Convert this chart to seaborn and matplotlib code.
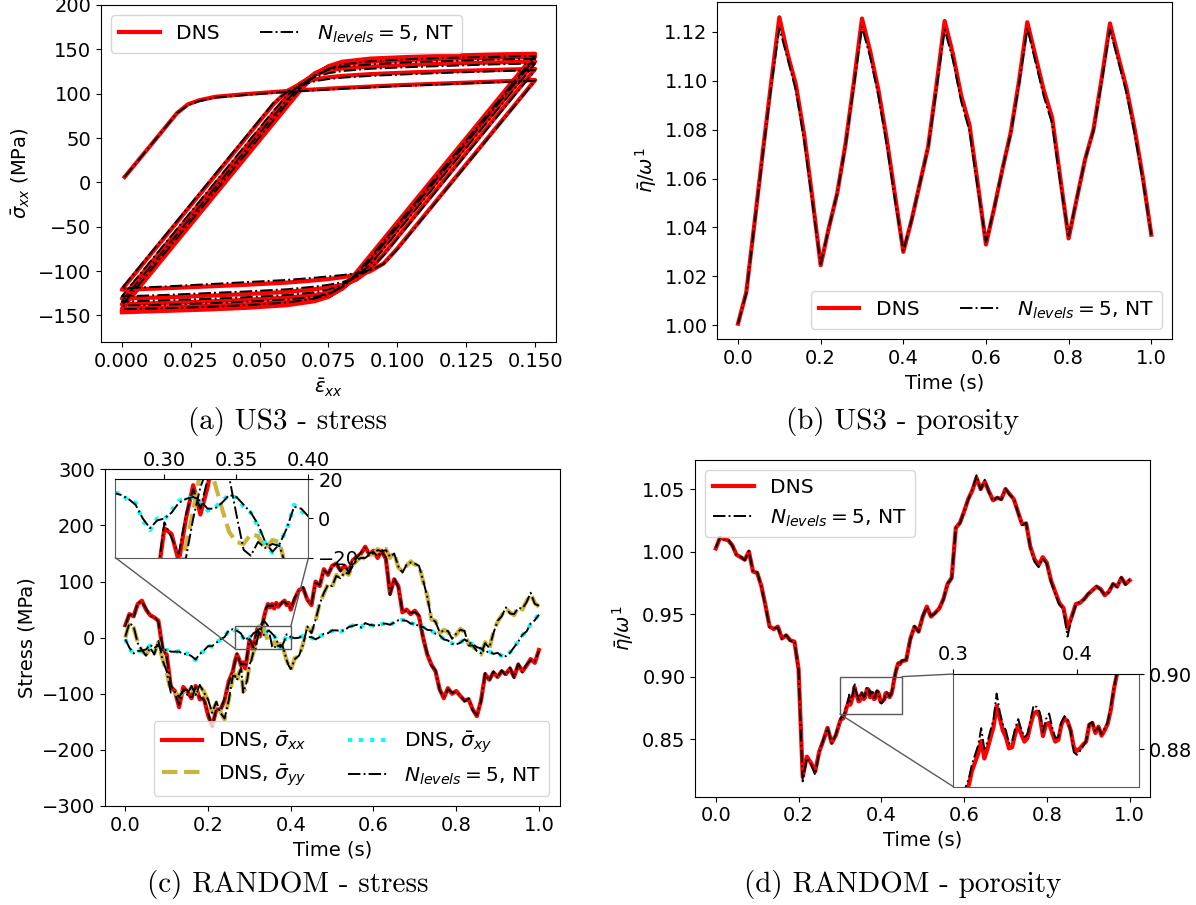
import numpy as np
import matplotlib
matplotlib.use("Agg")
import matplotlib.pyplot as plt
from matplotlib.patches import Rectangle, ConnectionPatch
import seaborn as sns

plt.rcParams["font.family"] = ["DejaVu Sans"]
plt.rcParams["font.size"] = 14
plt.rcParams["legend.fontsize"] = 14.6
plt.rcParams["mathtext.fontset"] = "dejavusans"

# ---------------------------------------------------------------- (a) US3 stress-strain
first_strain = [0.001, 0.010, 0.020, 0.024, 0.028, 0.034, 0.045, 0.060, 0.080, 0.100, 0.125, 0.150]
unload_strain = [0.150, 0.100, 0.095, 0.090, 0.085, 0.080, 0.075, 0.070, 0.060, 0.045, 0.030, 0.015, 0.000]
reload_strain = [0.000, 0.050, 0.055, 0.060, 0.065, 0.070, 0.075, 0.080, 0.090, 0.105, 0.120, 0.135, 0.150]

dns_first = [6.0, 40.0, 78.0, 88.0, 92.5, 96.5, 99.5, 103.0, 106.5, 109.5, 112.5, 115.4]
nt_first = [6.0, 40.0, 78.0, 87.0, 91.5, 95.5, 98.5, 102.0, 105.5, 108.5, 111.5, 114.5]

dns_unload = [
    [115.4, -74.6, -91.5, -100.5, -104.5, -107.0, -109.0, -110.5, -113.0, -115.5, -117.5, -119.5, -121.0],
    [128.0, -62.0, -81.0, -98.5, -110.0, -115.5, -118.5, -120.5, -123.5, -126.0, -128.0, -129.7, -131.0],
    [136.2, -53.8, -72.8, -91.8, -108.0, -119.0, -124.5, -127.0, -130.0, -132.5, -134.5, -136.0, -137.5],
    [141.5, -48.5, -67.5, -86.5, -105.5, -120.0, -128.5, -132.0, -135.0, -137.5, -139.5, -141.0, -142.5],
    [145.0, -45.0, -64.0, -83.0, -102.0, -118.5, -129.0, -134.0, -138.5, -141.5, -143.5, -145.0, -146.5],
]
dns_reload = [
    [-121.0, 69.0, 88.0, 103.0, 111.5, 116.0, 118.5, 120.0, 122.0, 124.0, 125.5, 126.8, 128.0],
    [-131.0, 59.0, 78.0, 97.0, 112.0, 121.5, 126.0, 128.5, 130.5, 132.5, 134.0, 135.2, 136.2],
    [-137.5, 52.5, 71.5, 90.5, 109.5, 123.0, 130.0, 133.5, 136.0, 138.0, 139.5, 140.6, 141.5],
    [-142.5, 47.5, 66.5, 85.5, 104.5, 121.0, 131.0, 136.0, 139.5, 141.5, 143.0, 144.2, 145.0],
]
nt_unload = [
    [114.5, -75.5, -92.0, -99.5, -102.5, -104.5, -106.0, -107.5, -110.0, -112.5, -115.0, -117.5, -119.5],
    [126.5, -63.5, -82.5, -98.0, -107.0, -112.5, -115.5, -117.5, -120.5, -123.0, -125.0, -127.0, -128.5],
    [134.0, -56.0, -75.0, -93.0, -106.5, -115.5, -121.0, -124.0, -127.0, -129.5, -131.5, -133.0, -134.5],
    [139.5, -50.5, -69.5, -88.5, -105.5, -118.0, -125.5, -129.0, -132.0, -134.5, -136.5, -138.0, -139.0],
    [142.5, -47.5, -66.5, -85.5, -103.5, -117.5, -126.5, -131.0, -135.5, -138.5, -140.5, -142.0, -143.0],
]
nt_reload = [
    [-119.5, 70.5, 89.5, 102.0, 109.5, 114.0, 116.5, 118.0, 120.0, 122.0, 123.7, 125.2, 126.5],
    [-128.5, 61.5, 80.5, 98.0, 110.5, 118.5, 123.0, 125.5, 128.0, 130.0, 131.5, 133.0, 134.0],
    [-134.5, 55.5, 74.5, 93.0, 109.5, 120.5, 127.0, 130.5, 133.0, 135.5, 137.0, 138.5, 139.5],
    [-139.0, 51.0, 70.0, 89.0, 106.5, 120.0, 128.0, 133.0, 136.5, 139.0, 140.5, 141.5, 142.5],
]

# ---------------------------------------------------------------- (b) US3 porosity
time_b = np.round(np.arange(51) * 0.02, 2)
dns_por_b = [1.0006, 1.0135, 1.0420, 1.0710, 1.0990, 1.1260, 1.1110, 1.0985, 1.0780, 1.0520,
             1.0245, 1.0400, 1.0540, 1.0740, 1.0990, 1.1255, 1.1120, 1.0960, 1.0760, 1.0530,
             1.0300, 1.0430, 1.0580, 1.0730, 1.0980, 1.1245, 1.1110, 1.0940, 1.0820, 1.0580,
             1.0330, 1.0480, 1.0640, 1.0790, 1.1000, 1.1240, 1.1100, 1.0960, 1.0850, 1.0600,
             1.0355, 1.0520, 1.0680, 1.0800, 1.1010, 1.1235, 1.1100, 1.0970, 1.0800, 1.0600,
             1.0370]
nt_por_b = [1.0006, 1.0130, 1.0415, 1.0700, 1.0975, 1.1215, 1.1090, 1.0960, 1.0755, 1.0500,
            1.0250, 1.0400, 1.0540, 1.0735, 1.0975, 1.1220, 1.1095, 1.0935, 1.0735, 1.0510,
            1.0305, 1.0430, 1.0580, 1.0725, 1.0965, 1.1210, 1.1085, 1.0915, 1.0795, 1.0560,
            1.0340, 1.0480, 1.0640, 1.0785, 1.0985, 1.1215, 1.1075, 1.0935, 1.0825, 1.0580,
            1.0365, 1.0520, 1.0680, 1.0795, 1.0995, 1.1210, 1.1080, 1.0950, 1.0780, 1.0585,
            1.0370]

# ---------------------------------------------------------------- (c) RANDOM stresses
# sampled every 0.01 s, refined to 0.005 s over 0.265-0.400 s
time_c = np.round(np.concatenate([np.arange(27) * 0.01,
                                  0.265 + np.arange(28) * 0.005,
                                  0.41 + np.arange(60) * 0.01]), 4)
sxx_dns = [22, 42, 38, 60, 66, 50, 40, 36, 30, -20, -30, -88, -95, -124, -88, -96, -108, -86, -110, -108,
           -138, -158, -128, -128, -112, -78, -60,
           -42, -30, -38, -50, -44, -55, -32, -5, -8, -22, 0, 17, 2, 16, 36, 50, 60, 54, 60, 52,
           62, 55, 60, 63, 66, 58, 62, 50,
           70, 85, 88, 68, 58, 100, 92, 122, 112, 128, 132, 120, 128, 118, 138, 144, 150, 162, 148, 155,
           142, 155, 140, 78, 104, 92, 45, 50, 42, 48, 38, 0, -30, -48, -60, -92, -108, -90, -100, -95,
           -104, -112, -110, -128, -140, -112, -65, -75, -62, -70, -60, -65, -55, -70, -48, -60, -50, -38, -45, -22]
syy_dns = [0, 28, 18, -8, -24, -30, -20, -28, -8, -38, -62, -96, -98, -104, -96, -100, -88, -100, -86, -96,
           -112, -132, -116, -132, -146, -110, -70,
           -66, -78, -62, -56, -96, -92, -72, -50, -38, -26, -14, 4, 24, 28, 18, 5, -7, -12, -13, -8,
           -9, -16, -11, -12, -28, -40, -50, -58,
           -36, -34, -10, 18, 10, 30, 62, 78, 96, 90, 112, 104, 118, 112, 130, 137, 144, 140, 150, 148,
           158, 152, 158, 142, 152, 125, 118, 128, 136, 130, 130, 100, 75, 32, 30, 8, 14, 10, 0, 5,
           16, 10, -12, -16, -22, -30, -8, -20, 10, 28, 40, 52, 45, 40, 55, 50, 65, 78, 62, 55]
sxy_dns = [-3, -20, -28, -22, -25, -20, -14, -18, -14, -24, -22, -24, -26, -24, -30, -28, -34, -40, -28, -24,
           -14, -16, -8, -4, 2, 12, 16,
           13, 13, 9, 8, -1, -6, 0, -0.5, 4, 9, 10.5, 10.5, 8, 4, 5.5, 9, 12, 10.5, 6, 3,
           -4, -12.5, -17.5, -12, -6, 7, 4, 0,
           -2, 1, 3, 2, 0, -4, 2, 6, 9, 12, 14, 11, 14, 18, 22, 22, 19, 25, 24, 21,
           22, 24, 26, 22, 28, 30, 32, 29, 26, 24, 21, 18, 15, 12, 8, 3, -2, -6, -10, -13,
           -8, -4, -8, -12, -16, -20, -26, -25, -28, -28, -32, -34, -26, -18, -6, 4, 12, 24, 32, 42]
sxx_nt = [20, 44, 36, 62, 64, 52, 38, 38, 28, -16, -34, -84, -98, -120, -92, -94, -110, -88, -106, -110,
          -134, -160, -126, -130, -108, -82, -58,
          -44, -28, -40, -48, -46, -52, -30, -2, -10, -18, 2, 15, 5, 20, 35, 52, 58, 56, 58, 54,
          60, 57, 58, 64, 64, 60, 60, 52,
          72, 83, 90, 66, 60, 98, 94, 120, 114, 126, 134, 118, 130, 116, 140, 142, 152, 160, 150, 153,
          144, 153, 142, 76, 106, 90, 47, 48, 44, 46, 40, -2, -28, -50, -58, -94, -106, -92, -98, -97,
          -102, -114, -108, -130, -138, -114, -63, -77, -60, -72, -58, -67, -53, -72, -46, -62, -48, -40, -43, -24]
syy_nt = [2, 26, 20, -10, -22, -32, -18, -30, -6, -40, -60, -98, -96, -106, -94, -102, -86, -102, -84, -98,
          -110, -134, -114, -134, -144, -112, -68,
          -68, -76, -64, -54, -98, -88, -74, -48, -40, -24, -20, 0, 16, 26, 30, 26, 21, 2, -16, -19,
          -12, -15, -13, -14, -26, -40, -50, -56,
          -38, -32, -12, 20, 8, 32, 60, 80, 94, 92, 110, 106, 116, 114, 128, 139, 142, 142, 148, 150,
          156, 154, 156, 144, 150, 127, 116, 130, 134, 132, 128, 102, 73, 34, 28, 10, 12, 12, -2, 7,
          14, 12, -14, -14, -24, -28, -10, -18, 8, 30, 38, 54, 43, 42, 53, 52, 63, 80, 60, 57]
sxy_nt = [-3, -18, -28, -24, -23, -21, -13, -19, -13, -25, -21, -25, -25, -25, -29, -29, -33, -39, -29, -23,
          -15, -15, -9, -3, 1, 13, 15,
          13, 12, 10, 7, 0, -5, -1, 0, 3, 8, 10, 11, 9, 5, 5, 8, 12, 11, 7, 3,
          -3, -12, -17, -13, -5, 6, 5, 1,
          -1, 0, 4, 1, 1, -3, 1, 7, 8, 13, 13, 12, 13, 19, 21, 23, 18, 26, 23, 22,
          21, 25, 25, 23, 27, 31, 31, 30, 25, 25, 20, 19, 14, 13, 7, 4, -3, -5, -11, -12,
          -9, -3, -9, -11, -17, -19, -27, -24, -29, -27, -33, -33, -27, -17, -7, 5, 11, 25, 31, 41]

# ---------------------------------------------------------------- (d) RANDOM porosity
# sampled every 0.01 s, refined to 0.0025 s over 0.30-0.45 s
time_d = np.round(np.concatenate([np.arange(30) * 0.01,
                                  0.30 + np.arange(61) * 0.0025,
                                  0.46 + np.arange(55) * 0.01]), 4)
dns_por_d = [1.0025, 1.0110, 1.0100, 1.0090, 1.0050, 0.9975, 0.9955, 0.9935, 1.0000, 0.9840,
             0.9830, 0.9725, 0.9570, 0.9400, 0.9380, 0.9400, 0.9305, 0.9330, 0.9290, 0.9280,
             0.9060, 0.8200, 0.8360, 0.8310, 0.8240, 0.8400, 0.8490, 0.8590, 0.8470, 0.8530,
             0.8640, 0.8660, 0.8675, 0.8665, 0.8688, 0.8705, 0.8742, 0.8765, 0.8788, 0.8822,
             0.8775, 0.8800, 0.8830, 0.8860, 0.8915, 0.8882, 0.8850, 0.8832, 0.8802, 0.8805,
             0.8840, 0.8864, 0.8840, 0.8820, 0.8830, 0.8866, 0.8895, 0.8900, 0.8887, 0.8835,
             0.8866, 0.8870, 0.8843, 0.8820, 0.8825, 0.8866, 0.8882, 0.8874, 0.8850, 0.8805,
             0.8795, 0.8802, 0.8812, 0.8820, 0.8865, 0.8870, 0.8843, 0.8860, 0.8836, 0.8850,
             0.8868, 0.8905, 0.8960, 0.9000, 0.9040, 0.9070, 0.9100, 0.9110, 0.9100, 0.9115,
             0.9125,
             0.9130, 0.9300, 0.9399, 0.9360, 0.9480, 0.9560, 0.9480, 0.9510, 0.9545, 0.9620,
             0.9740, 0.9790, 1.0190, 1.0230, 1.0320, 1.0420, 1.0490, 1.0590, 1.0500, 1.0560,
             1.0480, 1.0410, 1.0430, 1.0420, 1.0500, 1.0460, 1.0420, 1.0320, 1.0220, 1.0225,
             1.0040, 0.9940, 0.9890, 0.9955, 0.9910, 0.9770, 0.9680, 0.9590, 0.9550, 0.9385,
             0.9480, 0.9580, 0.9590, 0.9620, 0.9660, 0.9690, 0.9720, 0.9700, 0.9650, 0.9680,
             0.9740, 0.9720, 0.9790, 0.9740, 0.9770]
nt_por_d = [1.0030, 1.0115, 1.0095, 1.0095, 1.0045, 0.9970, 0.9960, 0.9930, 1.0005, 0.9835,
            0.9835, 0.9720, 0.9560, 0.9395, 0.9385, 0.9395, 0.9300, 0.9335, 0.9285, 0.9285,
            0.9050, 0.8162, 0.8350, 0.8300, 0.8215, 0.8395, 0.8495, 0.8595, 0.8465, 0.8535,
            0.8645, 0.8670, 0.8685, 0.8675, 0.8700, 0.8722, 0.8760, 0.8785, 0.8810, 0.8856,
            0.8800, 0.8818, 0.8850, 0.8880, 0.8948, 0.8900, 0.8866, 0.8850, 0.8815, 0.8820,
            0.8856, 0.8880, 0.8852, 0.8832, 0.8840, 0.8878, 0.8917, 0.8912, 0.8898, 0.8845,
            0.8880, 0.8895, 0.8858, 0.8830, 0.8832, 0.8872, 0.8888, 0.8878, 0.8848, 0.8792,
            0.8785, 0.8795, 0.8808, 0.8822, 0.8866, 0.8872, 0.8845, 0.8858, 0.8840, 0.8855,
            0.8872, 0.8915, 0.8962, 0.9005, 0.9045, 0.9075, 0.9105, 0.9112, 0.9098, 0.9118,
            0.9128,
            0.9135, 0.9295, 0.9405, 0.9355, 0.9485, 0.9555, 0.9485, 0.9505, 0.9550, 0.9615,
            0.9745, 0.9785, 1.0195, 1.0225, 1.0325, 1.0415, 1.0495, 1.0610, 1.0495, 1.0575,
            1.0475, 1.0405, 1.0435, 1.0415, 1.0505, 1.0455, 1.0425, 1.0315, 1.0210, 1.0230,
            1.0030, 0.9920, 0.9875, 0.9945, 0.9900, 0.9760, 0.9665, 0.9575, 0.9540, 0.9320,
            0.9470, 0.9575, 0.9600, 0.9615, 0.9665, 0.9685, 0.9725, 0.9695, 0.9655, 0.9675,
            0.9745, 0.9715, 0.9795, 0.9735, 0.9775]

captions = ["(a) US3 - stress", "(b) US3 - porosity",
            "(c) RANDOM - stress", "(d) RANDOM - porosity"]

RED = "#ff0000"
OLIVE = "#c9b43c"
CYAN = "#00ffff"
NT_LABEL = r"$N_{levels} = 5$, NT"

DNS_STYLE = dict(color=RED, linewidth=3.0, linestyle="-")
NT_STYLE = dict(color="black", linewidth=1.4, linestyle="-.")


def line(ax, x, y, **kw):
    sns.lineplot(x=np.asarray(x, float), y=np.asarray(y, float), ax=ax,
                 sort=False, estimator=None, legend=False, **kw)


def cycle_path(first, unloads, reloads):
    xs, ys = list(first_strain), list(first)
    for i, branch in enumerate(unloads):
        xs += unload_strain
        ys += branch
        if i < len(reloads):
            xs += reload_strain
            ys += reloads[i]
    return xs, ys


def style_inset(axins):
    axins.xaxis.tick_top()
    axins.yaxis.tick_right()
    for side in ("left", "bottom", "right"):
        axins.spines[side].set_color("0.35")
    axins.set_xlabel("")
    axins.set_ylabel("")


def connect(fig, ax, axins, xy_parent, xy_inset):
    con = ConnectionPatch(xyA=xy_parent, coordsA=ax.transData,
                          xyB=xy_inset, coordsB=axins.transAxes,
                          color="0.35", linewidth=1.0)
    fig.add_artist(con)


fig = plt.figure(figsize=(11.96, 9.05), dpi=100)

# ---------------- (a)
ax_a = fig.add_axes([0.0846, 0.6221, 0.3801, 0.3724])
x, y = cycle_path(dns_first, dns_unload, dns_reload)
line(ax_a, x, y, label="DNS", **DNS_STYLE)
x, y = cycle_path(nt_first, nt_unload, nt_reload)
line(ax_a, x, y, label=NT_LABEL, **NT_STYLE)
ax_a.set_ylim(-180, 200)
ax_a.set_xlabel(r"$\bar{\varepsilon}_{xx}$")
ax_a.set_ylabel(r"$\bar{\sigma}_{xx}$ (MPa)")
ax_a.legend(loc="upper left", ncol=2)

# ---------------- (b)
ax_b = fig.add_axes([0.5998, 0.6254, 0.3801, 0.3724])
line(ax_b, time_b, dns_por_b, label="DNS", **DNS_STYLE)
line(ax_b, time_b, nt_por_b, label=NT_LABEL, **NT_STYLE)
ax_b.set_xlabel("Time (s)")
ax_b.set_ylabel(r"$\bar{\eta}/\omega^1$")
ax_b.legend(loc="lower right", ncol=2)


def draw_stress(ax, labels=True):
    line(ax, time_c, sxx_dns, label=r"DNS, $\bar{\sigma}_{xx}$" if labels else None, **DNS_STYLE)
    line(ax, time_c, syy_dns, label=r"DNS, $\bar{\sigma}_{yy}$" if labels else None,
         color=OLIVE, linewidth=3.0, linestyle="--")
    line(ax, time_c, sxy_dns, label=r"DNS, $\bar{\sigma}_{xy}$" if labels else None,
         color=CYAN, linewidth=3.0, linestyle=":")
    line(ax, time_c, sxx_nt, label=NT_LABEL if labels else None, **NT_STYLE)
    line(ax, time_c, syy_nt, **NT_STYLE)
    line(ax, time_c, sxy_nt, **NT_STYLE)


# ---------------- (c)
ax_c = fig.add_axes([0.0875, 0.1094, 0.3804, 0.3720])
draw_stress(ax_c)
ax_c.set_ylim(-300, 300)
ax_c.set_xlabel("Time (s)")
ax_c.set_ylabel("Stress (MPa)")
ax_c.legend(loc="lower right", ncol=2)

zc = (0.266, 0.40, -20, 20)
ax_c.add_patch(Rectangle((zc[0], zc[2]), zc[1] - zc[0], zc[3] - zc[2],
                         fill=False, edgecolor="0.35", linewidth=1.0, zorder=5))
ins_c = fig.add_axes([0.0965, 0.3838, 0.1614, 0.0866])
draw_stress(ins_c, labels=False)
ins_c.set_xlim(zc[0], zc[1])
ins_c.set_ylim(zc[2], zc[3])
ins_c.set_xticks([0.30, 0.35, 0.40])
ins_c.set_xticklabels(["0.30", "0.35", "0.40"])
ins_c.set_yticks([-20, 0, 20])
style_inset(ins_c)
connect(fig, ax_c, ins_c, (zc[0], zc[2]), (0, 0))
connect(fig, ax_c, ins_c, (zc[1], zc[3]), (1, 0))

# ---------------- (d)
ax_d = fig.add_axes([0.5812, 0.1197, 0.3806, 0.3720])
line(ax_d, time_d, dns_por_d, label="DNS", **DNS_STYLE)
line(ax_d, time_d, nt_por_d, label=NT_LABEL, **NT_STYLE)
ax_d.set_xlabel("Time (s)")
ax_d.set_ylabel(r"$\bar{\eta}/\omega^1$")
ax_d.legend(loc="upper left")

zd = (0.30, 0.45, 0.87, 0.90)
ax_d.add_patch(Rectangle((zd[0], zd[2]), zd[1] - zd[0], zd[3] - zd[2],
                         fill=False, edgecolor="0.35", linewidth=1.0, zorder=5))
ins_d = fig.add_axes([0.7972, 0.1307, 0.1548, 0.1245])
line(ins_d, time_d, dns_por_d, **DNS_STYLE)
line(ins_d, time_d, nt_por_d, **NT_STYLE)
ins_d.set_xlim(zd[0], zd[1])
ins_d.set_ylim(zd[2], zd[3])
ins_d.set_xticks([0.3, 0.4])
ins_d.set_xticklabels(["0.3", "0.4"])
ins_d.set_yticks([0.88, 0.90])
ins_d.set_yticklabels(["0.88", "0.90"])
style_inset(ins_d)
connect(fig, ax_d, ins_d, (zd[0], zd[2]), (0, 0))
connect(fig, ax_d, ins_d, (zd[1], zd[3]), (0, 1))

# ---------------- captions
for (cx, cy), text in zip([(0.2404, 0.5348), (0.7548, 0.5348),
                           (0.2408, 0.0232), (0.7548, 0.0221)], captions):
    fig.text(cx, cy, text, ha="center", va="center", fontsize=21, family="cmr10")

fig.savefig("out.png", dpi=100)
